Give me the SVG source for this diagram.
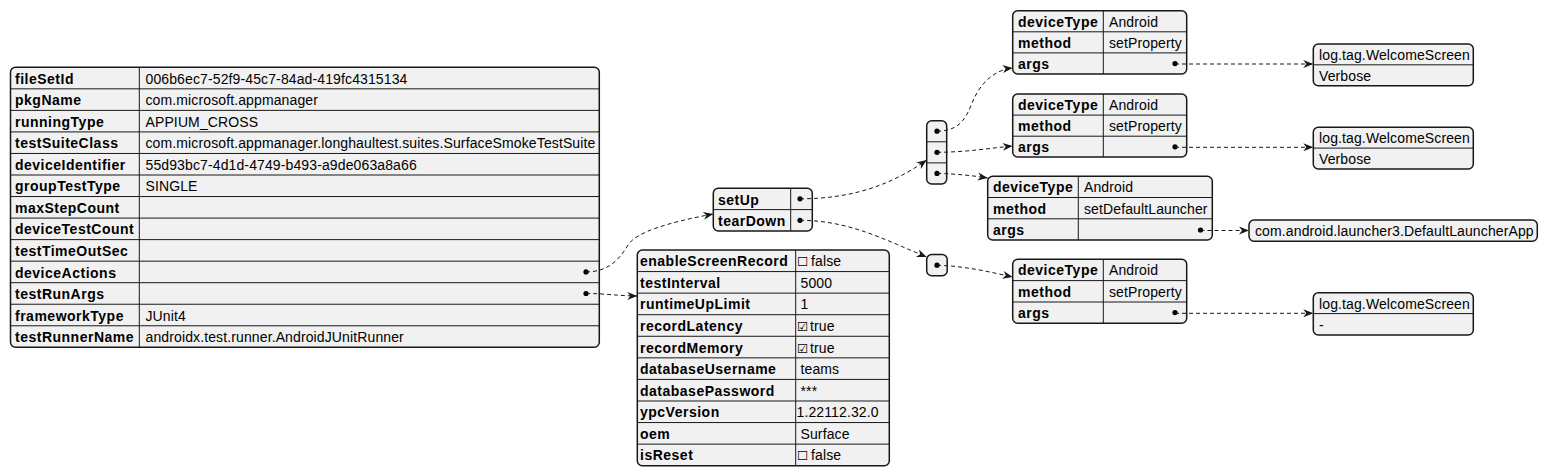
<svg xmlns="http://www.w3.org/2000/svg" width="1549" height="476" viewBox="0 0 1549 476">
<style>
.box{fill:#F1F1F1;stroke:#181818;stroke-width:1.5}
.sep{stroke:#181818;stroke-width:1;fill:none}
.k{font-family:"Liberation Sans",Arial,sans-serif;font-size:14px;font-weight:bold;letter-spacing:0.5px;fill:#000}
.v{font-family:"Liberation Sans",Arial,sans-serif;font-size:14px;letter-spacing:0.12px;fill:#000}
.cb{font-family:"DejaVu Sans",sans-serif;font-size:12.5px;fill:#000}
.dot{fill:#000}
.edge{fill:none;stroke:#181818;stroke-width:1;stroke-dasharray:4,3;marker-end:url(#ah)}
</style>
<defs>
<marker id="ah" markerUnits="userSpaceOnUse" markerWidth="11" markerHeight="9" refX="10" refY="4" orient="auto" overflow="visible">
<path d="M0,0 L10,4 L0,8 L3,4 Z" fill="#181818"/>
</marker>
</defs>
<rect width="1549" height="476" fill="#FFFFFF"/>

<g id="root">
<rect class="box" x="10.5" y="67.3" width="588.8" height="280" rx="5"/>
<path class="sep" d="M10.5,88.84H599.3M10.5,110.38H599.3M10.5,131.92H599.3M10.5,153.46H599.3M10.5,175H599.3M10.5,196.54H599.3M10.5,218.08H599.3M10.5,239.62H599.3M10.5,261.16H599.3M10.5,282.7H599.3M10.5,304.24H599.3M10.5,325.78H599.3M139.3,67.3V347.3"/>
<text class="k" x="15" y="83.6">fileSetId</text>
<text class="k" x="15" y="105.1">pkgName</text>
<text class="k" x="15" y="126.7">runningType</text>
<text class="k" x="15" y="148.2">testSuiteClass</text>
<text class="k" x="15" y="169.8">deviceIdentifier</text>
<text class="k" x="15" y="191.3">groupTestType</text>
<text class="k" x="15" y="212.8">maxStepCount</text>
<text class="k" x="15" y="234.4">deviceTestCount</text>
<text class="k" x="15" y="255.9">testTimeOutSec</text>
<text class="k" x="15" y="277.5">deviceActions</text>
<text class="k" x="15" y="299">testRunArgs</text>
<text class="k" x="15" y="320.5">frameworkType</text>
<text class="k" x="15" y="342.1">testRunnerName</text>
<text class="v" x="145.5" y="83.6">006b6ec7-52f9-45c7-84ad-419fc4315134</text>
<text class="v" x="145.5" y="105.1">com.microsoft.appmanager</text>
<text class="v" x="145.5" y="126.7">APPIUM_CROSS</text>
<text class="v" x="145.5" y="148.2">com.microsoft.appmanager.longhaultest.suites.SurfaceSmokeTestSuite</text>
<text class="v" x="145.5" y="169.8">55d93bc7-4d1d-4749-b493-a9de063a8a66</text>
<text class="v" x="145.5" y="191.3">SINGLE</text>
<text class="v" x="145.5" y="320.5">JUnit4</text>
<text class="v" x="145.5" y="342.1">androidx.test.runner.AndroidJUnitRunner</text>
<circle class="dot" cx="586" cy="271.9" r="2.6"/>
<circle class="dot" cx="586" cy="293.5" r="2.6"/>
</g>

<g id="deviceActions">
<rect class="box" x="713.3" y="188.3" width="99" height="42.7" rx="5"/>
<path class="sep" d="M713.3,209.6H812.3M790.7,188.3V231"/>
<text class="k" x="718" y="204.8">setUp</text>
<text class="k" x="718" y="226.2">tearDown</text>
<circle class="dot" cx="800" cy="198.8" r="2.6"/>
<circle class="dot" cx="800" cy="220.3" r="2.6"/>
</g>

<g id="testRunArgs">
<rect class="box" x="637.3" y="250" width="252" height="215.7" rx="5"/>
<path class="sep" d="M637.3,271.57H889.3M637.3,293.14H889.3M637.3,314.71H889.3M637.3,336.28H889.3M637.3,357.85H889.3M637.3,379.42H889.3M637.3,400.99H889.3M637.3,422.56H889.3M637.3,444.13H889.3M795.7,250V465.7"/>
<text class="k" x="640" y="266.2">enableScreenRecord</text>
<text class="k" x="640" y="287.8">testInterval</text>
<text class="k" x="640" y="309.3">runtimeUpLimit</text>
<text class="k" x="640" y="330.9">recordLatency</text>
<text class="k" x="640" y="352.5">recordMemory</text>
<text class="k" x="640" y="374.1">databaseUsername</text>
<text class="k" x="640" y="395.6">databasePassword</text>
<text class="k" x="640" y="417.2">ypcVersion</text>
<text class="k" x="640" y="438.8">oem</text>
<text class="k" x="640" y="460.3">isReset</text>
<text class="v" x="797" y="266.2"><tspan class="cb">☐</tspan><tspan x="811">false</tspan></text>
<text class="v" x="800.5" y="287.8">5000</text>
<text class="v" x="800.5" y="309.3">1</text>
<text class="v" x="797" y="330.9"><tspan class="cb">☑</tspan><tspan x="810">true</tspan></text>
<text class="v" x="797" y="352.5"><tspan class="cb">☑</tspan><tspan x="810">true</tspan></text>
<text class="v" x="800.5" y="374.1">teams</text>
<text class="v" x="800.5" y="395.6">***</text>
<text class="v" x="796.5" y="417.2">1.22112.32.0</text>
<text class="v" x="800.5" y="438.8">Surface</text>
<text class="v" x="797" y="460.3"><tspan class="cb">☐</tspan><tspan x="811">false</tspan></text>
</g>

<g id="setUpList">
<rect class="box" x="926.7" y="120.7" width="20" height="63.3" rx="5"/>
<path class="sep" d="M926.7,141.8H946.7M926.7,162.9H946.7"/>
<circle class="dot" cx="937" cy="131.2" r="2.6"/>
<circle class="dot" cx="937" cy="152.3" r="2.6"/>
<circle class="dot" cx="937" cy="173.4" r="2.6"/>
</g>

<g id="tearDownList">
<rect class="box" x="926.7" y="254.5" width="20.5" height="21.3" rx="5"/>
<circle class="dot" cx="937" cy="265.2" r="2.6"/>
</g>

<g id="setUp1">
<rect class="box" x="1012.7" y="10.7" width="174" height="63.3" rx="5"/>
<path class="sep" d="M1012.7,31.8H1186.7M1012.7,52.9H1186.7M1103.3,10.7V74"/>
<text class="k" x="1018" y="26.7">deviceType</text>
<text class="k" x="1018" y="47.8">method</text>
<text class="k" x="1018" y="68.9">args</text>
<text class="v" x="1109" y="26.7">Android</text>
<text class="v" x="1109" y="47.8">setProperty</text>
<circle class="dot" cx="1175" cy="63.6" r="2.6"/>
</g>

<g id="setUp2">
<rect class="box" x="1012.7" y="94" width="174" height="63" rx="5"/>
<path class="sep" d="M1012.7,115.1H1186.7M1012.7,136.2H1186.7M1103.3,94V157"/>
<text class="k" x="1018" y="110">deviceType</text>
<text class="k" x="1018" y="131.1">method</text>
<text class="k" x="1018" y="152.2">args</text>
<text class="v" x="1109" y="110">Android</text>
<text class="v" x="1109" y="131.1">setProperty</text>
<circle class="dot" cx="1175" cy="146.8" r="2.6"/>
</g>

<g id="setUp3">
<rect class="box" x="987.7" y="176.3" width="224.6" height="63.7" rx="5"/>
<path class="sep" d="M987.7,197.5H1212.3M987.7,218.8H1212.3M1078.3,176.3V240"/>
<text class="k" x="993" y="192.3">deviceType</text>
<text class="k" x="993" y="213.5">method</text>
<text class="k" x="993" y="234.8">args</text>
<text class="v" x="1084" y="192.3">Android</text>
<text class="v" x="1084" y="213.5">setDefaultLauncher</text>
<circle class="dot" cx="1200.5" cy="230" r="2.6"/>
</g>

<g id="tearDown1">
<rect class="box" x="1012.7" y="259.3" width="174" height="64" rx="5"/>
<path class="sep" d="M1012.7,280.6H1186.7M1012.7,302H1186.7M1103.3,259.3V323.3"/>
<text class="k" x="1018" y="275.3">deviceType</text>
<text class="k" x="1018" y="296.6">method</text>
<text class="k" x="1018" y="318">args</text>
<text class="v" x="1109" y="275.3">Android</text>
<text class="v" x="1109" y="296.6">setProperty</text>
<circle class="dot" cx="1175" cy="312.6" r="2.6"/>
</g>

<g id="args1">
<rect class="box" x="1313.3" y="44" width="160" height="41.7" rx="5"/>
<path class="sep" d="M1313.3,64.8H1473.3"/>
<text class="v" x="1319" y="60">log.tag.WelcomeScreen</text>
<text class="v" x="1319" y="81">Verbose</text>
</g>

<g id="args2">
<rect class="box" x="1313.3" y="127.3" width="160" height="41.7" rx="5"/>
<path class="sep" d="M1313.3,148.1H1473.3"/>
<text class="v" x="1319" y="143.3">log.tag.WelcomeScreen</text>
<text class="v" x="1319" y="164.4">Verbose</text>
</g>

<g id="args3">
<rect class="box" x="1249" y="220" width="288.3" height="21.3" rx="5"/>
<text class="v" x="1255" y="236">com.android.launcher3.DefaultLauncherApp</text>
</g>

<g id="args4">
<rect class="box" x="1313.3" y="292.7" width="160" height="42.3" rx="5"/>
<path class="sep" d="M1313.3,313.6H1473.3"/>
<text class="v" x="1319" y="308.7">log.tag.WelcomeScreen</text>
<text class="v" x="1319" y="330">-</text>
</g>

<g id="connectors">
<path class="edge" d="M586,271.9 C606,272 618,262 628,245 C636,232 670,222 713.3,214"/>
<path class="edge" d="M586,293.5 C606,293.5 620,296 637.3,296"/>
<path class="edge" d="M800,198.8 C850,198.8 890,186 926.7,160"/>
<path class="edge" d="M800,220.3 C850,220.5 885,240 926.7,257"/>
<path class="edge" d="M937,131.2 C960,131 966,118 972,103 C979,86 992,70 1012.7,68"/>
<path class="edge" d="M937,152.3 C970,152 990,148 1012.7,146"/>
<path class="edge" d="M937,173.4 C960,174 975,176 987.7,178"/>
<path class="edge" d="M937,265.2 C965,266 990,272 1012.7,277"/>
<path class="edge" d="M1175,64 H1313.3"/>
<path class="edge" d="M1175,147.3 H1313.3"/>
<path class="edge" d="M1200.5,230.5 H1249"/>
<path class="edge" d="M1175,313.3 H1313.3"/>
</g>
</svg>
